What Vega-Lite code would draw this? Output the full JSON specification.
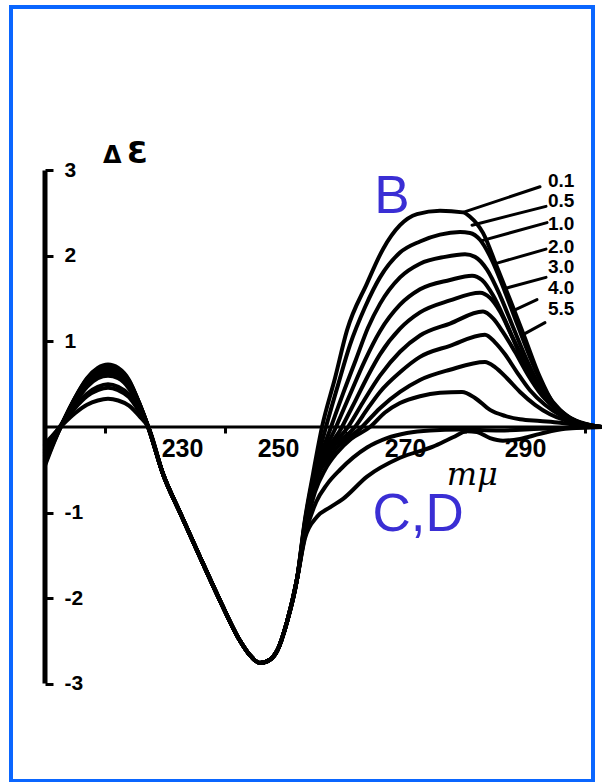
{
  "$schema": "https://vega.github.io/schema/vega-lite/v6.json",
  "autosize": "none",
  "padding": {"left": 11, "top": 7, "right": 9, "bottom": 1},
  "width": 582,
  "height": 774,
  "background": "white",
  "config": {"view": {"stroke": "#0a66ff", "strokeWidth": 4}, "font": "Liberation Sans"},
  "datasets": {
    "spectra": [
      {"curve":"0.1","nm":210,"de":-0.45},{"curve":"0.1","nm":211.5,"de":-0.18},{"curve":"0.1","nm":213,"de":0.06},{"curve":"0.1","nm":215,"de":0.34},{"curve":"0.1","nm":217,"de":0.57},{"curve":"0.1","nm":218.8,"de":0.69},{"curve":"0.1","nm":220.5,"de":0.73},{"curve":"0.1","nm":222.2,"de":0.69},{"curve":"0.1","nm":224,"de":0.55},{"curve":"0.1","nm":225.7,"de":0.28},{"curve":"0.1","nm":227.2,"de":0},
      {"curve":"0.1","nm":229.67,"de":-0.55},{"curve":"0.1","nm":232.5,"de":-1.0},{"curve":"0.1","nm":235.83,"de":-1.52},{"curve":"0.1","nm":239.17,"de":-2.03},{"curve":"0.1","nm":242.5,"de":-2.5},{"curve":"0.1","nm":244.17,"de":-2.67},{"curve":"0.1","nm":245.83,"de":-2.76},{"curve":"0.1","nm":247.5,"de":-2.72},{"curve":"0.1","nm":248.67,"de":-2.62},{"curve":"0.1","nm":250.33,"de":-2.28},{"curve":"0.1","nm":252,"de":-1.78},{"curve":"0.1","nm":253.33,"de":-1.08},
      {"curve":"0.1","nm":254.67,"de":-0.55},{"curve":"0.1","nm":256.17,"de":0},{"curve":"0.1","nm":258.33,"de":0.57},{"curve":"0.1","nm":260.33,"de":1.13},{"curve":"0.1","nm":263.67,"de":1.68},{"curve":"0.1","nm":266.33,"de":2.08},{"curve":"0.1","nm":269.17,"de":2.36},{"curve":"0.1","nm":272,"de":2.49},{"curve":"0.1","nm":275.83,"de":2.53},{"curve":"0.1","nm":279.67,"de":2.51},{"curve":"0.1","nm":280.83,"de":2.46},{"curve":"0.1","nm":283,"de":2.27},{"curve":"0.1","nm":285.33,"de":1.87},{"curve":"0.1","nm":287.5,"de":1.49},{"curve":"0.1","nm":289.67,"de":1.1},{"curve":"0.1","nm":292.5,"de":0.58},{"curve":"0.1","nm":294.67,"de":0.28},{"curve":"0.1","nm":297,"de":0.12},{"curve":"0.1","nm":299.17,"de":0.05},{"curve":"0.1","nm":301.33,"de":0.01},{"curve":"0.1","nm":302.83,"de":0},

      {"curve":"0.5","nm":210,"de":-0.43},{"curve":"0.5","nm":211.5,"de":-0.17},{"curve":"0.5","nm":213,"de":0.06},{"curve":"0.5","nm":215,"de":0.34},{"curve":"0.5","nm":217,"de":0.56},{"curve":"0.5","nm":218.8,"de":0.68},{"curve":"0.5","nm":220.5,"de":0.72},{"curve":"0.5","nm":222.2,"de":0.68},{"curve":"0.5","nm":224,"de":0.54},{"curve":"0.5","nm":225.7,"de":0.28},{"curve":"0.5","nm":227.2,"de":0},
      {"curve":"0.5","nm":229.67,"de":-0.55},{"curve":"0.5","nm":232.5,"de":-1.0},{"curve":"0.5","nm":235.83,"de":-1.52},{"curve":"0.5","nm":239.17,"de":-2.03},{"curve":"0.5","nm":242.5,"de":-2.5},{"curve":"0.5","nm":244.17,"de":-2.67},{"curve":"0.5","nm":245.83,"de":-2.76},{"curve":"0.5","nm":247.5,"de":-2.72},{"curve":"0.5","nm":248.67,"de":-2.62},{"curve":"0.5","nm":250.33,"de":-2.28},{"curve":"0.5","nm":252,"de":-1.78},{"curve":"0.5","nm":253.33,"de":-1.1},
      {"curve":"0.5","nm":254.83,"de":-0.55},{"curve":"0.5","nm":256.83,"de":0},{"curve":"0.5","nm":258.83,"de":0.49},{"curve":"0.5","nm":260.83,"de":0.96},{"curve":"0.5","nm":263.33,"de":1.4},{"curve":"0.5","nm":265.83,"de":1.75},{"curve":"0.5","nm":269.17,"de":2.04},{"curve":"0.5","nm":272.5,"de":2.17},{"curve":"0.5","nm":275.83,"de":2.25},{"curve":"0.5","nm":279.17,"de":2.28},{"curve":"0.5","nm":280.83,"de":2.27},{"curve":"0.5","nm":282.5,"de":2.19},{"curve":"0.5","nm":284.5,"de":1.95},{"curve":"0.5","nm":286.67,"de":1.58},{"curve":"0.5","nm":288.83,"de":1.18},{"curve":"0.5","nm":291.17,"de":0.76},{"curve":"0.5","nm":293.5,"de":0.41},{"curve":"0.5","nm":295.83,"de":0.2},{"curve":"0.5","nm":298.33,"de":0.07},{"curve":"0.5","nm":300.83,"de":0.01},{"curve":"0.5","nm":302.83,"de":0},

      {"curve":"1.0","nm":210,"de":-0.4},{"curve":"1.0","nm":211.5,"de":-0.16},{"curve":"1.0","nm":213,"de":0.06},{"curve":"1.0","nm":215,"de":0.33},{"curve":"1.0","nm":217,"de":0.55},{"curve":"1.0","nm":218.8,"de":0.66},{"curve":"1.0","nm":220.5,"de":0.7},{"curve":"1.0","nm":222.2,"de":0.66},{"curve":"1.0","nm":224,"de":0.53},{"curve":"1.0","nm":225.7,"de":0.27},{"curve":"1.0","nm":227.2,"de":0},
      {"curve":"1.0","nm":229.67,"de":-0.55},{"curve":"1.0","nm":232.5,"de":-1.0},{"curve":"1.0","nm":235.83,"de":-1.52},{"curve":"1.0","nm":239.17,"de":-2.03},{"curve":"1.0","nm":242.5,"de":-2.5},{"curve":"1.0","nm":244.17,"de":-2.67},{"curve":"1.0","nm":245.83,"de":-2.76},{"curve":"1.0","nm":247.5,"de":-2.72},{"curve":"1.0","nm":248.67,"de":-2.62},{"curve":"1.0","nm":250.33,"de":-2.28},{"curve":"1.0","nm":252,"de":-1.78},{"curve":"1.0","nm":253.33,"de":-1.12},
      {"curve":"1.0","nm":255,"de":-0.56},{"curve":"1.0","nm":257.67,"de":0},{"curve":"1.0","nm":259.67,"de":0.39},{"curve":"1.0","nm":261.83,"de":0.79},{"curve":"1.0","nm":263.83,"de":1.16},{"curve":"1.0","nm":265.83,"de":1.44},{"curve":"1.0","nm":269.17,"de":1.75},{"curve":"1.0","nm":272.5,"de":1.91},{"curve":"1.0","nm":276.67,"de":1.99},{"curve":"1.0","nm":280,"de":2.02},{"curve":"1.0","nm":281.67,"de":1.99},{"curve":"1.0","nm":283.67,"de":1.84},{"curve":"1.0","nm":285.83,"de":1.54},{"curve":"1.0","nm":288,"de":1.17},{"curve":"1.0","nm":290.33,"de":0.78},{"curve":"1.0","nm":292.83,"de":0.43},{"curve":"1.0","nm":295.33,"de":0.22},{"curve":"1.0","nm":298,"de":0.08},{"curve":"1.0","nm":300.83,"de":0.01},{"curve":"1.0","nm":302.83,"de":0},

      {"curve":"2.0","nm":210,"de":-0.38},{"curve":"2.0","nm":211.5,"de":-0.15},{"curve":"2.0","nm":213,"de":0.05},{"curve":"2.0","nm":215,"de":0.32},{"curve":"2.0","nm":217,"de":0.53},{"curve":"2.0","nm":218.8,"de":0.64},{"curve":"2.0","nm":220.5,"de":0.68},{"curve":"2.0","nm":222.2,"de":0.64},{"curve":"2.0","nm":224,"de":0.51},{"curve":"2.0","nm":225.7,"de":0.27},{"curve":"2.0","nm":227.2,"de":0},
      {"curve":"2.0","nm":229.67,"de":-0.55},{"curve":"2.0","nm":232.5,"de":-1.0},{"curve":"2.0","nm":235.83,"de":-1.52},{"curve":"2.0","nm":239.17,"de":-2.03},{"curve":"2.0","nm":242.5,"de":-2.5},{"curve":"2.0","nm":244.17,"de":-2.67},{"curve":"2.0","nm":245.83,"de":-2.76},{"curve":"2.0","nm":247.5,"de":-2.72},{"curve":"2.0","nm":248.67,"de":-2.62},{"curve":"2.0","nm":250.33,"de":-2.28},{"curve":"2.0","nm":252,"de":-1.78},{"curve":"2.0","nm":253.33,"de":-1.14},
      {"curve":"2.0","nm":255,"de":-0.58},{"curve":"2.0","nm":258.5,"de":0},{"curve":"2.0","nm":260.83,"de":0.38},{"curve":"2.0","nm":263.33,"de":0.78},{"curve":"2.0","nm":265.83,"de":1.12},{"curve":"2.0","nm":269.17,"de":1.43},{"curve":"2.0","nm":272.5,"de":1.61},{"curve":"2.0","nm":277.5,"de":1.72},{"curve":"2.0","nm":281.17,"de":1.77},{"curve":"2.0","nm":282.83,"de":1.72},{"curve":"2.0","nm":284.67,"de":1.54},{"curve":"2.0","nm":286.67,"de":1.25},{"curve":"2.0","nm":288.83,"de":0.9},{"curve":"2.0","nm":291.33,"de":0.55},{"curve":"2.0","nm":293.83,"de":0.3},{"curve":"2.0","nm":296.33,"de":0.14},{"curve":"2.0","nm":299.17,"de":0.05},{"curve":"2.0","nm":302.83,"de":0},

      {"curve":"3.0","nm":210,"de":-0.36},{"curve":"3.0","nm":211.5,"de":-0.14},{"curve":"3.0","nm":213,"de":0.05},{"curve":"3.0","nm":215,"de":0.31},{"curve":"3.0","nm":217,"de":0.51},{"curve":"3.0","nm":218.8,"de":0.62},{"curve":"3.0","nm":220.5,"de":0.66},{"curve":"3.0","nm":222.2,"de":0.62},{"curve":"3.0","nm":224,"de":0.5},{"curve":"3.0","nm":225.7,"de":0.26},{"curve":"3.0","nm":227.2,"de":0},
      {"curve":"3.0","nm":229.67,"de":-0.55},{"curve":"3.0","nm":232.5,"de":-1.0},{"curve":"3.0","nm":235.83,"de":-1.52},{"curve":"3.0","nm":239.17,"de":-2.03},{"curve":"3.0","nm":242.5,"de":-2.5},{"curve":"3.0","nm":244.17,"de":-2.67},{"curve":"3.0","nm":245.83,"de":-2.76},{"curve":"3.0","nm":247.5,"de":-2.72},{"curve":"3.0","nm":248.67,"de":-2.62},{"curve":"3.0","nm":250.33,"de":-2.28},{"curve":"3.0","nm":252,"de":-1.78},{"curve":"3.0","nm":253.33,"de":-1.16},
      {"curve":"3.0","nm":255,"de":-0.6},{"curve":"3.0","nm":259.5,"de":0},{"curve":"3.0","nm":261.83,"de":0.32},{"curve":"3.0","nm":263.83,"de":0.6},{"curve":"3.0","nm":265.83,"de":0.85},{"curve":"3.0","nm":269.17,"de":1.15},{"curve":"3.0","nm":272.5,"de":1.34},{"curve":"3.0","nm":277.5,"de":1.48},{"curve":"3.0","nm":282.5,"de":1.57},{"curve":"3.0","nm":284.17,"de":1.51},{"curve":"3.0","nm":285.83,"de":1.35},{"curve":"3.0","nm":287.83,"de":1.06},{"curve":"3.0","nm":290,"de":0.76},{"curve":"3.0","nm":292.5,"de":0.46},{"curve":"3.0","nm":295,"de":0.25},{"curve":"3.0","nm":297.5,"de":0.11},{"curve":"3.0","nm":300,"de":0.04},{"curve":"3.0","nm":302.83,"de":0},

      {"curve":"4.0","nm":210,"de":-0.33},{"curve":"4.0","nm":211.5,"de":-0.13},{"curve":"4.0","nm":213,"de":0.05},{"curve":"4.0","nm":215,"de":0.3},{"curve":"4.0","nm":217,"de":0.49},{"curve":"4.0","nm":218.8,"de":0.6},{"curve":"4.0","nm":220.5,"de":0.63},{"curve":"4.0","nm":222.2,"de":0.6},{"curve":"4.0","nm":224,"de":0.47},{"curve":"4.0","nm":225.7,"de":0.25},{"curve":"4.0","nm":227.2,"de":0},
      {"curve":"4.0","nm":229.67,"de":-0.55},{"curve":"4.0","nm":232.5,"de":-1.0},{"curve":"4.0","nm":235.83,"de":-1.52},{"curve":"4.0","nm":239.17,"de":-2.03},{"curve":"4.0","nm":242.5,"de":-2.5},{"curve":"4.0","nm":244.17,"de":-2.67},{"curve":"4.0","nm":245.83,"de":-2.76},{"curve":"4.0","nm":247.5,"de":-2.72},{"curve":"4.0","nm":248.67,"de":-2.62},{"curve":"4.0","nm":250.33,"de":-2.28},{"curve":"4.0","nm":252,"de":-1.78},{"curve":"4.0","nm":253.33,"de":-1.18},
      {"curve":"4.0","nm":255,"de":-0.62},{"curve":"4.0","nm":257,"de":-0.3},{"curve":"4.0","nm":260.5,"de":0},{"curve":"4.0","nm":263,"de":0.29},{"curve":"4.0","nm":265.83,"de":0.6},{"curve":"4.0","nm":269.17,"de":0.88},{"curve":"4.0","nm":272.5,"de":1.07},{"curve":"4.0","nm":277.5,"de":1.21},{"curve":"4.0","nm":283,"de":1.35},{"curve":"4.0","nm":284.67,"de":1.27},{"curve":"4.0","nm":286.33,"de":1.11},{"curve":"4.0","nm":288.33,"de":0.88},{"curve":"4.0","nm":290.5,"de":0.61},{"curve":"4.0","nm":292.83,"de":0.37},{"curve":"4.0","nm":295.33,"de":0.21},{"curve":"4.0","nm":297.83,"de":0.09},{"curve":"4.0","nm":300.5,"de":0.02},{"curve":"4.0","nm":302.83,"de":0},

      {"curve":"5.5","nm":210,"de":-0.3},{"curve":"5.5","nm":211.5,"de":-0.12},{"curve":"5.5","nm":213,"de":0.05},{"curve":"5.5","nm":215,"de":0.28},{"curve":"5.5","nm":217,"de":0.47},{"curve":"5.5","nm":218.8,"de":0.57},{"curve":"5.5","nm":220.5,"de":0.6},{"curve":"5.5","nm":222.2,"de":0.57},{"curve":"5.5","nm":224,"de":0.45},{"curve":"5.5","nm":225.7,"de":0.23},{"curve":"5.5","nm":227.2,"de":0},
      {"curve":"5.5","nm":229.67,"de":-0.55},{"curve":"5.5","nm":232.5,"de":-1.0},{"curve":"5.5","nm":235.83,"de":-1.52},{"curve":"5.5","nm":239.17,"de":-2.03},{"curve":"5.5","nm":242.5,"de":-2.5},{"curve":"5.5","nm":244.17,"de":-2.67},{"curve":"5.5","nm":245.83,"de":-2.76},{"curve":"5.5","nm":247.5,"de":-2.72},{"curve":"5.5","nm":248.67,"de":-2.62},{"curve":"5.5","nm":250.33,"de":-2.28},{"curve":"5.5","nm":252,"de":-1.78},{"curve":"5.5","nm":253.33,"de":-1.2},
      {"curve":"5.5","nm":255,"de":-0.64},{"curve":"5.5","nm":257.33,"de":-0.3},{"curve":"5.5","nm":261.67,"de":0},{"curve":"5.5","nm":263.83,"de":0.22},{"curve":"5.5","nm":265.83,"de":0.41},{"curve":"5.5","nm":269.17,"de":0.64},{"curve":"5.5","nm":272.5,"de":0.82},{"curve":"5.5","nm":277.5,"de":0.95},{"curve":"5.5","nm":283.33,"de":1.08},{"curve":"5.5","nm":285,"de":0.99},{"curve":"5.5","nm":286.67,"de":0.85},{"curve":"5.5","nm":288.67,"de":0.64},{"curve":"5.5","nm":290.83,"de":0.43},{"curve":"5.5","nm":293.33,"de":0.26},{"curve":"5.5","nm":295.83,"de":0.14},{"curve":"5.5","nm":298.33,"de":0.06},{"curve":"5.5","nm":300.83,"de":0.01},{"curve":"5.5","nm":302.83,"de":0},

      {"curve":"B8","nm":210,"de":-0.26},{"curve":"B8","nm":211.5,"de":-0.1},{"curve":"B8","nm":213,"de":0.04},{"curve":"B8","nm":215,"de":0.24},{"curve":"B8","nm":217,"de":0.39},{"curve":"B8","nm":218.8,"de":0.47},{"curve":"B8","nm":220.5,"de":0.5},{"curve":"B8","nm":222.2,"de":0.47},{"curve":"B8","nm":224,"de":0.38},{"curve":"B8","nm":225.7,"de":0.2},{"curve":"B8","nm":227.2,"de":0},
      {"curve":"B8","nm":229.67,"de":-0.55},{"curve":"B8","nm":232.5,"de":-1.0},{"curve":"B8","nm":235.83,"de":-1.52},{"curve":"B8","nm":239.17,"de":-2.03},{"curve":"B8","nm":242.5,"de":-2.5},{"curve":"B8","nm":244.17,"de":-2.67},{"curve":"B8","nm":245.83,"de":-2.76},{"curve":"B8","nm":247.5,"de":-2.72},{"curve":"B8","nm":248.67,"de":-2.62},{"curve":"B8","nm":250.33,"de":-2.28},{"curve":"B8","nm":252,"de":-1.78},{"curve":"B8","nm":253.33,"de":-1.22},
      {"curve":"B8","nm":255,"de":-0.68},{"curve":"B8","nm":257.67,"de":-0.33},{"curve":"B8","nm":262.83,"de":0},{"curve":"B8","nm":265.83,"de":0.22},{"curve":"B8","nm":269.17,"de":0.41},{"curve":"B8","nm":272.5,"de":0.55},{"curve":"B8","nm":277.5,"de":0.67},{"curve":"B8","nm":283.33,"de":0.76},{"curve":"B8","nm":285,"de":0.7},{"curve":"B8","nm":287,"de":0.57},{"curve":"B8","nm":289.17,"de":0.41},{"curve":"B8","nm":291.67,"de":0.26},{"curve":"B8","nm":294.17,"de":0.15},{"curve":"B8","nm":296.67,"de":0.08},{"curve":"B8","nm":299.17,"de":0.04},{"curve":"B8","nm":302.83,"de":0},

      {"curve":"B9","nm":210,"de":-0.24},{"curve":"B9","nm":211.5,"de":-0.1},{"curve":"B9","nm":213,"de":0.04},{"curve":"B9","nm":215,"de":0.22},{"curve":"B9","nm":217,"de":0.36},{"curve":"B9","nm":218.8,"de":0.43},{"curve":"B9","nm":220.5,"de":0.46},{"curve":"B9","nm":222.2,"de":0.43},{"curve":"B9","nm":224,"de":0.35},{"curve":"B9","nm":225.7,"de":0.18},{"curve":"B9","nm":227.2,"de":0},
      {"curve":"B9","nm":229.67,"de":-0.55},{"curve":"B9","nm":232.5,"de":-1.0},{"curve":"B9","nm":235.83,"de":-1.52},{"curve":"B9","nm":239.17,"de":-2.03},{"curve":"B9","nm":242.5,"de":-2.5},{"curve":"B9","nm":244.17,"de":-2.67},{"curve":"B9","nm":245.83,"de":-2.76},{"curve":"B9","nm":247.5,"de":-2.72},{"curve":"B9","nm":248.67,"de":-2.62},{"curve":"B9","nm":250.33,"de":-2.28},{"curve":"B9","nm":252,"de":-1.78},{"curve":"B9","nm":253.33,"de":-1.24},
      {"curve":"B9","nm":255,"de":-0.76},{"curve":"B9","nm":256.67,"de":-0.5},{"curve":"B9","nm":258.67,"de":-0.3},{"curve":"B9","nm":261,"de":-0.14},{"curve":"B9","nm":264.17,"de":0},{"curve":"B9","nm":266.67,"de":0.17},{"curve":"B9","nm":269.17,"de":0.28},{"curve":"B9","nm":272.5,"de":0.36},{"curve":"B9","nm":275.83,"de":0.4},{"curve":"B9","nm":279.5,"de":0.41},{"curve":"B9","nm":281.67,"de":0.34},{"curve":"B9","nm":284.17,"de":0.2},{"curve":"B9","nm":286.67,"de":0.13},{"curve":"B9","nm":289.17,"de":0.09},{"curve":"B9","nm":292.5,"de":0.07},{"curve":"B9","nm":295.83,"de":0.05},{"curve":"B9","nm":299.17,"de":0.02},{"curve":"B9","nm":302.83,"de":0},

      {"curve":"C","nm":210,"de":-0.22},{"curve":"C","nm":211.5,"de":-0.09},{"curve":"C","nm":213,"de":0.06},{"curve":"C","nm":215,"de":0.33},{"curve":"C","nm":217,"de":0.55},{"curve":"C","nm":218.8,"de":0.67},{"curve":"C","nm":220.5,"de":0.71},{"curve":"C","nm":222.2,"de":0.67},{"curve":"C","nm":224,"de":0.53},{"curve":"C","nm":225.7,"de":0.28},{"curve":"C","nm":227.2,"de":0},
      {"curve":"C","nm":229.67,"de":-0.55},{"curve":"C","nm":232.5,"de":-1.0},{"curve":"C","nm":235.83,"de":-1.52},{"curve":"C","nm":239.17,"de":-2.03},{"curve":"C","nm":242.5,"de":-2.5},{"curve":"C","nm":244.17,"de":-2.67},{"curve":"C","nm":245.83,"de":-2.76},{"curve":"C","nm":247.5,"de":-2.72},{"curve":"C","nm":248.67,"de":-2.62},{"curve":"C","nm":250.33,"de":-2.28},{"curve":"C","nm":252,"de":-1.78},{"curve":"C","nm":253.33,"de":-1.27},
      {"curve":"C","nm":255.17,"de":-0.88},{"curve":"C","nm":257,"de":-0.67},{"curve":"C","nm":259.17,"de":-0.5},{"curve":"C","nm":263.67,"de":-0.24},{"curve":"C","nm":267,"de":-0.13},{"curve":"C","nm":270.33,"de":-0.07},{"curve":"C","nm":274.17,"de":-0.04},{"curve":"C","nm":279.17,"de":-0.03},{"curve":"C","nm":285.83,"de":-0.04},{"curve":"C","nm":292.5,"de":-0.02},{"curve":"C","nm":302.83,"de":0},

      {"curve":"D","nm":210,"de":-0.2},{"curve":"D","nm":211.5,"de":-0.08},{"curve":"D","nm":213,"de":0.03},{"curve":"D","nm":215,"de":0.16},{"curve":"D","nm":217,"de":0.26},{"curve":"D","nm":218.8,"de":0.31},{"curve":"D","nm":220.5,"de":0.33},{"curve":"D","nm":222.2,"de":0.31},{"curve":"D","nm":224,"de":0.25},{"curve":"D","nm":225.7,"de":0.13},{"curve":"D","nm":227.2,"de":0},
      {"curve":"D","nm":229.67,"de":-0.55},{"curve":"D","nm":232.5,"de":-1.0},{"curve":"D","nm":235.83,"de":-1.52},{"curve":"D","nm":239.17,"de":-2.03},{"curve":"D","nm":242.5,"de":-2.5},{"curve":"D","nm":244.17,"de":-2.67},{"curve":"D","nm":245.83,"de":-2.76},{"curve":"D","nm":247.5,"de":-2.72},{"curve":"D","nm":248.67,"de":-2.62},{"curve":"D","nm":250.33,"de":-2.28},{"curve":"D","nm":252,"de":-1.78},{"curve":"D","nm":253.33,"de":-1.3},
      {"curve":"D","nm":255.33,"de":-1.05},{"curve":"D","nm":257.5,"de":-0.94},{"curve":"D","nm":259.67,"de":-0.84},{"curve":"D","nm":263.67,"de":-0.58},{"curve":"D","nm":269.17,"de":-0.36},{"curve":"D","nm":274.67,"de":-0.23},{"curve":"D","nm":278,"de":-0.12},{"curve":"D","nm":280.33,"de":-0.05},{"curve":"D","nm":282,"de":-0.06},{"curve":"D","nm":284.17,"de":-0.13},{"curve":"D","nm":286.33,"de":-0.16},{"curve":"D","nm":289.17,"de":-0.14},{"curve":"D","nm":292.5,"de":-0.08},{"curve":"D","nm":296.67,"de":-0.02},{"curve":"D","nm":302.83,"de":0}
    ],
    "leaders": [
      {"label":"0.1","nm":279.67,"de":2.51,"nm2":292.5,"de2":2.81},
      {"label":"0.5","nm":281.17,"de":2.36,"nm2":293.5,"de2":2.58},
      {"label":"1.0","nm":282.83,"de":2.18,"nm2":293.67,"de2":2.39},
      {"label":"2.0","nm":285.5,"de":1.92,"nm2":293.5,"de2":2.08},
      {"label":"3.0","nm":286.67,"de":1.62,"nm2":293.5,"de2":1.75},
      {"label":"4.0","nm":288.33,"de":1.37,"nm2":292.0,"de2":1.49},
      {"label":"5.5","nm":289.67,"de":1.08,"nm2":293.33,"de2":1.22}
    ],
    "labels": [
      {"label":"0.1","nm":293.83,"de":2.88},
      {"label":"0.5","nm":293.83,"de":2.64},
      {"label":"1.0","nm":293.83,"de":2.37},
      {"label":"2.0","nm":293.83,"de":2.11},
      {"label":"3.0","nm":293.83,"de":1.87},
      {"label":"4.0","nm":293.83,"de":1.63},
      {"label":"5.5","nm":293.83,"de":1.38}
    ],
    "groups": [
      {"label":"B","nm":267.83,"de":2.5},
      {"label":"C,D","nm":272.17,"de":-1.22}
    ]
  },
  "layer": [
    {
      "data": {"name": "spectra"},
      "mark": {"type": "line", "color": "black", "strokeWidth": 4, "interpolate": "monotone", "strokeCap": "round", "strokeJoin": "round"},
      "encoding": {
        "x": {
          "field": "nm", "type": "quantitative",
          "scale": {"domain": [204.333, 301.333], "nice": false, "zero": false},
          "axis": {
            "orient": "bottom", "offset": -354, "title": null, "grid": false, "domain": false,
            "values": [220, 230, 240, 250, 260, 270, 280, 290, 300],
            "labelExpr": "datum.value % 20 == 10 ? datum.label : ''",
            "tickColor": "black", "tickWidth": 3, "tickSize": 6,
            "tickOpacity": {"condition": {"test": "datum.value % 20 == 0", "value": 1}, "value": 0},
            "labelOffset": {"condition": [{"test": "datum.value == 230", "value": 17}, {"test": "datum.value == 250", "value": -7}], "value": 0},
            "labelFont": "Liberation Sans", "labelFontWeight": "bold", "labelFontSize": 25, "labelColor": "black",
            "labelPadding": 3, "labelFlush": false, "labelOverlap": false
          }
        },
        "y": {
          "field": "de", "type": "quantitative",
          "scale": {"domain": [-4.14, 4.912], "nice": false, "zero": false},
          "axis": {
            "orient": "right", "offset": -548, "title": null, "grid": false, "domain": false,
            "values": [-3, -2, -1, 1, 2, 3],
            "labelExpr": "datum.value < 0 ? '-' + (-datum.value) : '' + datum.value",
            "tickColor": "black", "tickWidth": 3, "tickSize": 8,
            "labelFont": "Liberation Sans", "labelFontWeight": "bold", "labelFontSize": 21, "labelColor": "black",
            "labelPadding": 11, "labelOverlap": false, "labelFlush": false
          }
        },
        "detail": {"field": "curve"}
      }
    },
    {
      "data": {"values": [{}]},
      "mark": {"type": "rule", "color": "black", "strokeWidth": 5},
      "encoding": {"x": {"datum": 210}, "y": {"datum": -3}, "y2": {"datum": 3}}
    },
    {
      "data": {"values": [{}]},
      "mark": {"type": "rule", "color": "black", "strokeWidth": 3},
      "encoding": {"x": {"datum": 210}, "x2": {"datum": 302.83}, "y": {"datum": 0}}
    },
    {
      "data": {"name": "leaders"},
      "mark": {"type": "rule", "color": "black", "strokeWidth": 3, "strokeCap": "round"},
      "encoding": {
        "x": {"field": "nm", "type": "quantitative"},
        "y": {"field": "de", "type": "quantitative"},
        "x2": {"field": "nm2"},
        "y2": {"field": "de2"}
      }
    },
    {
      "data": {"name": "labels"},
      "mark": {"type": "text", "align": "left", "baseline": "middle", "font": "Liberation Sans", "fontWeight": "bold", "fontSize": 19, "color": "black"},
      "encoding": {
        "x": {"field": "nm", "type": "quantitative"},
        "y": {"field": "de", "type": "quantitative"},
        "text": {"field": "label"}
      }
    },
    {
      "data": {"name": "groups"},
      "mark": {"type": "text", "align": "center", "baseline": "alphabetic", "font": "Liberation Sans", "fontSize": 53, "color": "#3a2ed4"},
      "encoding": {
        "x": {"field": "nm", "type": "quantitative"},
        "y": {"field": "de", "type": "quantitative"},
        "text": {"field": "label"}
      }
    },
    {
      "data": {"values": [{}]},
      "mark": {"type": "text", "text": "Δ", "align": "center", "baseline": "alphabetic", "font": "DejaVu Sans", "fontWeight": "bold", "fontSize": 24, "color": "black"},
      "encoding": {"x": {"datum": 221.2}, "y": {"datum": 3.09}}
    },
    {
      "data": {"values": [{}]},
      "mark": {"type": "text", "text": "Ɛ", "align": "center", "baseline": "alphabetic", "font": "DejaVu Sans", "fontWeight": "bold", "fontSize": 30, "color": "black"},
      "encoding": {"x": {"datum": 225.4}, "y": {"datum": 3.09}}
    },
    {
      "data": {"values": [{}]},
      "mark": {"type": "text", "text": "mμ", "align": "center", "baseline": "alphabetic", "font": "DejaVu Serif", "fontStyle": "italic", "fontSize": 32, "color": "black"},
      "encoding": {"x": {"datum": 281.2}, "y": {"datum": -0.68}}
    }
  ]
}
